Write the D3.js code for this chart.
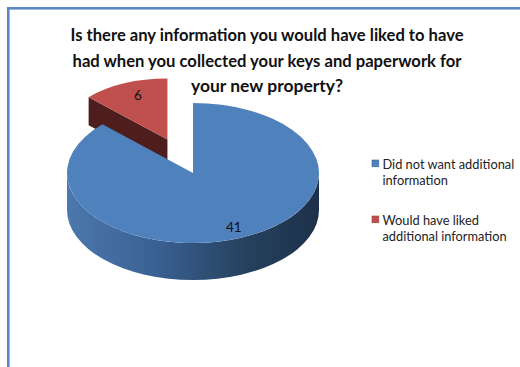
<!DOCTYPE html>
<html>
<head>
<meta charset="utf-8">
<script src="https://cdn.jsdelivr.net/npm/d3@7"></script>
<style>
  html, body { margin: 0; padding: 0; background: #fff; }
  svg { display: block; }
  text { font-family: Lato, "Open Sans", "DejaVu Sans", sans-serif; }
</style>
</head>
<body>
<svg id="chart" width="520" height="367"></svg>
<script>
// Survey answers
const categories = ["Did not want additional information", "Would have liked additional information"];
const values = [41, 6];
const colors = ["#4f81bd", "#c0504d"];
const legendLines = [["Did not want additional", "information"], ["Would have liked", "additional information"]];
const titleLines = [
  "Is there any information you would have liked to have",
  "had when you collected your keys and paperwork for",
  "your new property?"
];

const svg = d3.select("#chart");

// outer frame (runs off the right and bottom edges)
svg.append("rect")
  .attr("x", 8.3).attr("y", 8.3)
  .attr("width", 600).attr("height", 500)
  .attr("fill", "none")
  .attr("stroke", "#5b87c5")
  .attr("stroke-width", 2.6);

// title
const titleWidths = [393, 389, 152];
svg.append("g").selectAll("text").data(titleLines).join("text")
  .attr("x", 267)
  .attr("y", (d, i) => 41 + i * 25.5)
  .attr("text-anchor", "middle")
  .attr("font-size", 16.5)
  .attr("font-weight", "bold")
  .attr("fill", "#111")
  .attr("textLength", (d, i) => titleWidths[i])
  .attr("lengthAdjust", "spacingAndGlyphs")
  .text(d => d);

// 3D pie geometry
const cx = 193, cy = 173, rx = 126, ry = 70, depth = 37;
const explode = 0.52;      // offset of the pulled-out slice, in radii
const backScale = 0.87;    // the pulled-out slice sits further back
const backDepth = 28;

const pie = d3.pie().sort(null).startAngle(0).endAngle(2 * Math.PI);
const arcs = pie(values);
const unitArc = d3.arc().innerRadius(0).outerRadius(1);

const defs = svg.append("defs");
const grad = defs.append("linearGradient").attr("id", "sideBlue")
  .attr("gradientUnits", "userSpaceOnUse")
  .attr("x1", cx - rx).attr("x2", cx + rx).attr("y1", 0).attr("y2", 0);
[[0, "#4c78ae"], [0.35, "#3a6193"], [0.7, "#26425f"], [1, "#1d3049"]]
  .forEach(([o, c]) => grad.append("stop").attr("offset", o).attr("stop-color", c));

const pt = (a, ox, oy, sx, sy) => [ox + sx * Math.sin(a), oy - sy * Math.cos(a)];

// pulled-out slice (index 1)
{
  const d = arcs[1];
  const mid = (d.startAngle + d.endAngle) / 2;
  const ox = cx + Math.sin(mid) * explode * rx;
  const oy = cy - Math.cos(mid) * explode * ry;
  const sx = rx * backScale, sy = ry * backScale;
  const rim = pt(d.startAngle, ox, oy, sx, sy);
  // visible cut face along the start edge
  svg.append("path")
    .attr("d", `M${ox},${oy} L${rim[0]},${rim[1]} L${rim[0]},${rim[1] + backDepth} L${ox},${oy + backDepth} Z`)
    .attr("fill", "#4d1e1d");
  svg.append("path")
    .attr("d", unitArc(d))
    .attr("transform", `translate(${ox},${oy}) scale(${sx},${sy})`)
    .attr("fill", colors[1]);
  const lp = pt(mid, ox, oy, sx * 0.69, sy * 0.79);
  svg.append("text").attr("x", lp[0]).attr("y", lp[1] + 4.5)
    .attr("text-anchor", "middle").attr("font-size", 13.5).attr("fill", "#111")
    .text(values[1]);
}

// main slice (index 0): front wall then top face
{
  const d = arcs[0];
  const a0 = Math.PI / 2, a1 = 3 * Math.PI / 2;
  const p0 = pt(a0, cx, cy, rx, ry), p1 = pt(a1, cx, cy, rx, ry);
  svg.append("path")
    .attr("d", `M${p0[0]},${p0[1]} A${rx},${ry} 0 0 1 ${p1[0]},${p1[1]} L${p1[0]},${p1[1] + depth} A${rx},${ry} 0 0 0 ${p0[0]},${p0[1] + depth} Z`)
    .attr("fill", "url(#sideBlue)");
  svg.append("path")
    .attr("d", unitArc(d))
    .attr("transform", `translate(${cx},${cy}) scale(${rx},${ry})`)
    .attr("fill", colors[0]);
  const mid = (d.startAngle + d.endAngle) / 2;
  const lp = pt(mid, cx, cy, rx * 0.83, ry * 0.85);
  svg.append("text").attr("x", lp[0]).attr("y", lp[1] + 4.5)
    .attr("text-anchor", "middle").attr("font-size", 13.5).attr("fill", "#111")
    .text(values[0]);
}

// legend
const leg = svg.append("g").selectAll("g").data(categories).join("g")
  .attr("transform", (d, i) => `translate(372,${160 + i * 56})`);
leg.append("rect").attr("width", 6.8).attr("height", 6.8)
  .attr("fill", (d, i) => colors[i])
  .attr("stroke", (d, i) => d3.color(colors[i]).darker(0.6))
  .attr("stroke-width", 0.6);
leg.each(function(d, i) {
  d3.select(this).selectAll("text").data(legendLines[i]).join("text")
    .attr("x", 10.5)
    .attr("y", (t, j) => 9 + j * 16)
    .attr("font-size", 12.8)
    .attr("fill", "#222")
    .text(t => t);
});
</script>
</body>
</html>
